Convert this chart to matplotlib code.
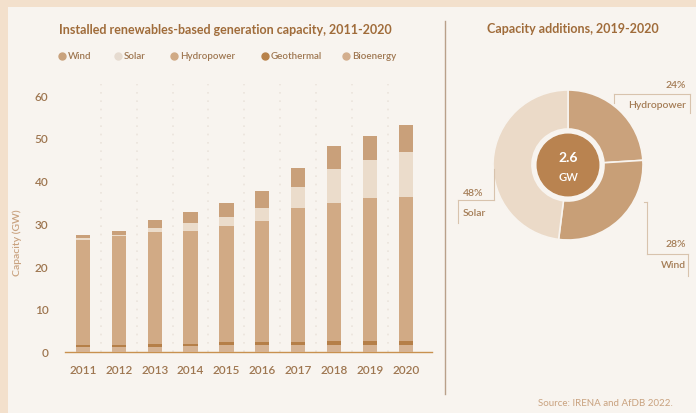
import matplotlib
matplotlib.use("Agg")
import matplotlib.pyplot as plt
from matplotlib.lines import Line2D
from matplotlib.patches import Rectangle, Circle
import numpy as np

plt.rcParams['font.family'] = ['Lato', 'DejaVu Sans']

years = ['2011', '2012', '2013', '2014', '2015', '2016', '2017', '2018', '2019', '2020']
bioenergy = [1.1, 1.1, 1.2, 1.3, 1.5, 1.5, 1.5, 1.6, 1.6, 1.6]
geothermal = [0.5, 0.5, 0.5, 0.5, 0.8, 0.8, 0.8, 0.8, 0.8, 0.8]
hydropower = [24.5, 25.4, 26.4, 26.5, 27.2, 28.2, 31.4, 32.4, 33.5, 33.8]
solar = [0.5, 0.4, 0.8, 1.8, 2.0, 3.1, 4.9, 7.9, 9.0, 10.6]
wind = [0.8, 0.9, 1.8, 2.6, 3.3, 4.0, 4.3, 5.5, 5.6, 6.3]

donut_labels = ['Hydropower', 'Wind', 'Solar']
donut_shares = [24, 28, 48]
total_added = '2.6'

C_WIND = '#c9a07a'
C_SOLAR = '#ebdccb'
C_HYDRO = '#d1aa85'
C_GEO = '#b57f48'
C_BIO = '#d6b393'
C_TITLE = '#a06c3a'
C_TICK = '#9e7650'
C_LIGHT = '#c9a27f'

W, H = 696, 414
fig = plt.figure(figsize=(W / 100, H / 100), dpi=100)
fig.patch.set_facecolor('#f3e0cc')
fig.add_artist(Rectangle((8 / W, 0), 1, 1 - 8 / H, transform=fig.transFigure,
                         facecolor='#f8f4ef', edgecolor='none', zorder=0))

def fx(x):
    return x / W

def fy(y):
    return 1 - y / H

# ---------------- bar chart ----------------
ax = fig.add_axes([fx(65), fy(352.7), fx(432) - fx(65), fy(85) - fy(352.7)])
ax.set_facecolor('none')
x = np.arange(len(years))
bw = 0.4
bottom = np.zeros(len(years))
for vals, col in [(bioenergy, C_BIO), (geothermal, C_GEO), (hydropower, C_HYDRO),
                  (solar, C_SOLAR), (wind, C_WIND)]:
    ax.bar(x, vals, bw, bottom=bottom, color=col, edgecolor='none', zorder=3)
    bottom += np.array(vals)

for gx in x[:-1] + 0.5:
    ax.axvline(gx, color='#ebe4dc', lw=1.2, ls=(0, (1, 4)), zorder=1)

ax.set_xlim(-0.5, 9.73)
ax.set_ylim(0, 62.6)
ax.set_yticks([0, 10, 20, 30, 40, 50, 60])
ax.set_xticks(x)
ax.set_xticklabels(years)
for s in ['top', 'right', 'left']:
    ax.spines[s].set_visible(False)
ax.spines['bottom'].set_color('#c8914f')
ax.spines['bottom'].set_linewidth(1.0)
ax.tick_params(axis='both', length=0, colors=C_TICK, labelsize=8.5)
ax.tick_params(axis='y', pad=12)
ax.tick_params(axis='x', pad=9)
for lab in ax.get_xticklabels() + ax.get_yticklabels():
    lab.set_color(C_TICK)
    lab.set_fontweight('semibold')
fig.text(fx(17), fy(243), 'Capacity (GW)', rotation=90, ha='center', va='center',
         color=C_LIGHT, fontsize=7.5, fontweight='semibold')

fig.text(fx(59), fy(30), 'Installed renewables-based generation capacity, 2011-2020',
         ha='left', va='center', color=C_TITLE, fontsize=9, fontweight='bold')

legend_items = [('Wind', '#c9a27c', 62), ('Solar', '#e6dbd0', 118),
                ('Hydropower', '#d0aa85', 174), ('Geothermal', '#b8824a', 265),
                ('Bioenergy', '#d3ae8d', 346)]
for name, col, px in legend_items:
    fig.add_artist(Line2D([fx(px)], [fy(57)], marker='o', markersize=5,
                          color=col, lw=0, transform=fig.transFigure))
    fig.text(fx(px + 6), fy(57), name, ha='left', va='center', color=C_TICK, fontsize=7,
             fontweight='semibold')

# divider
fig.add_artist(Line2D([fx(445), fx(445)], [fy(22), fy(395)], color='#b9a089', lw=1.0,
                      transform=fig.transFigure))

# ---------------- donut ----------------
cx, cy, r = 568, 166, 75
dax = fig.add_axes([fx(cx - r), fy(cy + r), fx(2 * r), (2 * r) / H])
dax.pie(donut_shares, colors=['#caa27c', '#c89f77', '#ebdac8'], startangle=90,
        counterclock=False, radius=1.0,
        wedgeprops=dict(width=0.52, edgecolor='#f8f4ef', linewidth=1.2))
dax.add_patch(Circle((0, 0), 0.41, color='#b98350', zorder=5))
dax.set_xlim(-1, 1)
dax.set_ylim(-1, 1)
dax.set_aspect('equal')
dax.axis('off')
dax.text(0, 0.1, total_added, ha='center', va='center', color='white', fontsize=10,
         fontweight='bold', zorder=6)
dax.text(0, -0.15, 'GW', ha='center', va='center', color='white', fontsize=8,
         fontweight='semibold', zorder=6)

fig.text(fx(573), fy(29), 'Capacity additions, 2019-2020', ha='center', va='center',
         color=C_TITLE, fontsize=9, fontweight='bold')

lab_col = '#a47c55'
line_col = '#d8c3ad'
# Hydropower label
fig.text(fx(686), fy(85), f'{donut_shares[0]}%', ha='right', va='center', color=lab_col,
         fontsize=7.5, fontweight='semibold')
fig.text(fx(686), fy(106), donut_labels[0], ha='right', va='center', color=lab_col,
         fontsize=7.5, fontweight='semibold')
for xs, ys in [([614, 690], [95, 95]), ([614, 614], [95, 104]), ([690, 690], [95, 114])]:
    fig.add_artist(Line2D([fx(v) for v in xs], [fy(v) for v in ys], color=line_col, lw=0.8,
                          transform=fig.transFigure))
# Wind label
fig.text(fx(686), fy(245), f'{donut_shares[1]}%', ha='right', va='center', color=lab_col,
         fontsize=7.5, fontweight='semibold')
fig.text(fx(686), fy(266), donut_labels[1], ha='right', va='center', color=lab_col,
         fontsize=7.5, fontweight='semibold')
for xs, ys in [([644, 647], [203, 203]), ([647, 647], [203, 255]), ([647, 688], [255, 255]),
               ([688, 688], [255, 277])]:
    fig.add_artist(Line2D([fx(v) for v in xs], [fy(v) for v in ys], color=line_col, lw=0.8,
                          transform=fig.transFigure))
# Solar label
fig.text(fx(463), fy(194), f'{donut_shares[2]}%', ha='left', va='center', color=lab_col,
         fontsize=7.5, fontweight='semibold')
fig.text(fx(463), fy(214), donut_labels[2], ha='left', va='center', color=lab_col,
         fontsize=7.5, fontweight='semibold')
for xs, ys in [([458, 494], [201, 201]), ([458, 458], [201, 224]), ([494, 494], [170, 201])]:
    fig.add_artist(Line2D([fx(v) for v in xs], [fy(v) for v in ys], color=line_col, lw=0.8,
                          transform=fig.transFigure))

fig.text(fx(673), fy(404), 'Source: IRENA and AfDB 2022.', ha='right', va='center',
         color=C_LIGHT, fontsize=7)

fig.savefig('out.png', dpi=100, facecolor=fig.get_facecolor())
